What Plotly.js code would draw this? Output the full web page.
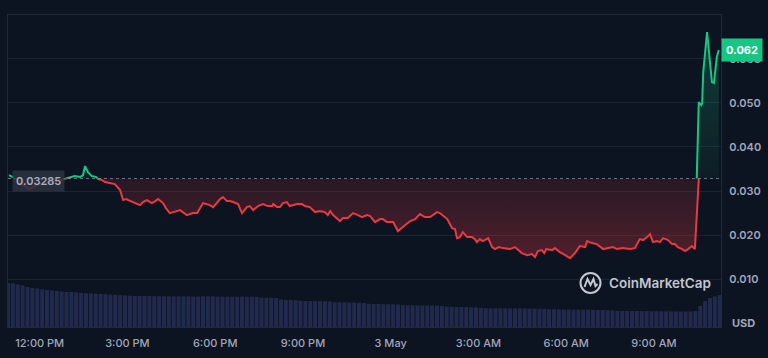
<!DOCTYPE html>
<html>
<head>
<meta charset="utf-8">
<script src="https://cdn.plot.ly/plotly-3.0.1.min.js"></script>
<style>
html,body{margin:0;padding:0;background:#0d1421;}
#chart{width:768px;height:358px;}
</style>
</head>
<body>
<div id="chart"></div>
<script>
// ---------- DATA ----------
const baselinePrice = 0.03285;
const lastPriceLabel = '0.062';

const priceTimesMay2 = ['10:57','11:05','11:20','11:34','11:40','11:54','12:07','12:21','12:35','12:46','12:56','13:02','13:12','13:23','13:29','13:33','13:39','13:47','13:56','14:00','14:08','14:14','14:24','14:34','14:45','14:51','14:57','15:05','15:16','15:26','15:32','15:40','15:50','15:57','16:03','16:13','16:19','16:27','16:38','16:48','17:02','17:14','17:23','17:35','17:49','17:56','18:10','18:16','18:24','18:30','18:37','18:47','18:55','19:05','19:11','19:18','19:28','19:38','19:48','19:57','19:59','20:07','20:13','20:19','20:27','20:33','20:48','20:58','21:04','21:14','21:25','21:35','21:45','21:51','21:56','22:02','22:16','22:22','22:32','22:43','22:53','23:01','23:11','23:18','23:28','23:38','23:44','23:52'];
const priceMay2 = [0.03363,0.03318,0.03181,0.03091,0.03045,0.03136,0.03181,0.03204,0.03227,0.03249,0.03295,0.03318,0.03340,0.03318,0.03363,0.03567,0.03431,0.03340,0.03318,0.03272,0.03249,0.03204,0.03181,0.03159,0.03023,0.02796,0.02819,0.02773,0.02728,0.02682,0.02751,0.02796,0.02728,0.02773,0.02819,0.02728,0.02614,0.02501,0.02546,0.02569,0.02456,0.02501,0.02501,0.02728,0.02682,0.02637,0.02819,0.02864,0.02773,0.02773,0.02751,0.02705,0.02501,0.02637,0.02660,0.02569,0.02660,0.02705,0.02660,0.02660,0.02705,0.02637,0.02637,0.02728,0.02751,0.02660,0.02705,0.02705,0.02660,0.02637,0.02524,0.02546,0.02524,0.02456,0.02546,0.02456,0.02320,0.02388,0.02388,0.02501,0.02456,0.02410,0.02456,0.02433,0.02297,0.02365,0.02365,0.02297];

const priceTimesMay3 = ['00:05','00:15','00:25','00:40','00:50','01:00','01:10','01:21','01:35','01:41','01:56','02:06','02:12','02:16','02:22','02:28','02:37','02:47','02:53','02:57','03:03','03:09','03:20','03:28','03:34','03:42','03:50','04:05','04:15','04:29','04:40','04:50','04:56','05:02','05:10','05:15','05:19','05:31','05:37','05:47','05:58','06:08','06:18','06:28','06:39','06:43','06:53','07:03','07:16','07:26','07:36','07:44','07:56','08:11','08:21','08:31','08:38','08:46','08:52','08:58','09:06','09:12','09:19','09:29','09:37','09:43','09:49','09:58','10:04','10:10','10:18','10:24','10:32','10:37','10:39','10:41','10:49','10:53','10:59','11:03','11:09','11:13'];
const priceMay3 = [0.02297,0.02093,0.02184,0.02320,0.02365,0.02478,0.02410,0.02410,0.02524,0.02501,0.02365,0.02161,0.02138,0.01934,0.01957,0.02070,0.01957,0.01957,0.01911,0.01843,0.01911,0.01866,0.01934,0.01730,0.01685,0.01730,0.01707,0.01685,0.01730,0.01594,0.01548,0.01571,0.01503,0.01639,0.01662,0.01594,0.01685,0.01662,0.01707,0.01616,0.01548,0.01480,0.01594,0.01753,0.01730,0.01866,0.01821,0.01798,0.01685,0.01707,0.01730,0.01685,0.01707,0.01685,0.01707,0.01911,0.01889,0.01957,0.02025,0.01843,0.01866,0.01843,0.01934,0.01889,0.01798,0.01798,0.01730,0.01685,0.01639,0.01685,0.01753,0.01685,0.05018,0.04950,0.04996,0.05676,0.06606,0.06130,0.05472,0.05450,0.06039,0.06200];

const volTimesMay2 = ['10:55','11:05','11:15','11:25','11:35','11:45','11:55','12:05','12:15','12:25','12:35','12:45','12:55','13:05','13:15','13:25','13:35','13:45','13:55','14:05','14:15','14:25','14:35','14:45','14:55','15:05','15:15','15:25','15:35','15:45','15:55','16:05','16:15','16:25','16:35','16:45','16:55','17:05','17:15','17:25','17:35','17:45','17:55','18:05','18:15','18:25','18:35','18:45','18:55','19:05','19:15','19:25','19:35','19:45','19:55','20:05','20:15','20:25','20:35','20:45','20:55','21:05','21:15','21:25','21:35','21:45','21:55','22:05','22:15','22:25','22:35','22:45','22:55','23:05','23:15','23:25','23:35','23:45','23:55'];
const volMay2 = [44,43.5,42.5,41.5,40,39,38.5,37.5,37,36.5,36,35.5,35,35,34.5,34,33.8,33.5,33.2,33,32.8,32.5,32,31.8,31.5,31.3,31,31,31,31,30.8,30.8,30.7,30.7,30.6,30.6,30.5,30.5,30.5,30.4,30.7,30.7,30.5,30.3,30.3,30.3,30.3,30.3,30.3,30.2,30.2,30,29.3,29.3,29.2,29,27.5,27,27,26.8,26.3,26,26,25.8,25.8,25.7,25.5,24.8,24.7,24.7,24.5,24.5,24.3,24,23.2,23,23,22.8,22.7];

const volTimesMay3 = ['00:05','00:15','00:25','00:35','00:45','00:55','01:05','01:15','01:25','01:35','01:45','01:55','02:05','02:15','02:25','02:35','02:45','02:55','03:05','03:15','03:25','03:35','03:45','03:55','04:05','04:15','04:25','04:35','04:45','04:55','05:05','05:15','05:25','05:35','05:45','05:55','06:05','06:15','06:25','06:35','06:45','06:55','07:05','07:15','07:25','07:35','07:45','07:55','08:05','08:15','08:25','08:35','08:45','08:55','09:05','09:15','09:25','09:35','09:45','09:55','10:05','10:15','10:25','10:35','10:45','10:55','11:05','11:15'];
const volMay3 = [22.7,22.5,21.8,21.7,21.7,21.6,21.5,21.5,21.4,21.3,21,20.5,20.2,20,20,20,19.8,19.6,19,18.8,18.7,18.7,18.7,18.6,18.6,18.5,18.5,18.5,18.4,18.3,18.2,18,17.7,17.7,17.6,17.5,17.5,17.4,17.3,17.3,17.2,17.2,17,17,16.8,16.6,16.2,16,16,16,16,15.9,15.9,15.8,15.8,15.7,15.7,15.6,15.6,15.5,15.5,15.5,16,21,26,29,30.5,32];

const xTickVals = ['2024-05-02 12:00','2024-05-02 15:00','2024-05-02 18:00','2024-05-02 21:00','2024-05-03 00:00','2024-05-03 03:00','2024-05-03 06:00','2024-05-03 09:00'];
const xTickText = ['12:00 PM','3:00 PM','6:00 PM','9:00 PM','3 May','3:00 AM','6:00 AM','9:00 AM'];
const yTickVals = [0.01,0.02,0.03,0.04,0.05,0.06];
const yTickText = ['0.010','0.020','0.030','0.040','0.050','0.060'];

// ---------- BUILD ----------
const priceX = priceTimesMay2.map(t => '2024-05-02 ' + t).concat(priceTimesMay3.map(t => '2024-05-03 ' + t));
const priceY = priceMay2.concat(priceMay3);
const volX = volTimesMay2.map(t => '2024-05-02 ' + t).concat(volTimesMay3.map(t => '2024-05-03 ' + t));
const volY = volMay2.concat(volMay3);
const baseY = priceX.map(() => baselinePrice);

const RED = '#ea3943', GREEN = '#16c784', BG = '#0d1421';
const yMin = -0.00082, yMax = 0.06993;
const split = (baselinePrice - yMin) / (yMax - yMin);
const xRange = ['2024-05-02 10:55', '2024-05-03 11:17:36'];

const traces = [
  {type:'bar', x:volX, y:volY, yaxis:'y2', xaxis:'x',
   marker:{color:'#202a4c', line:{width:0}}, hoverinfo:'skip'},
  // red (below baseline) – clipped subplot
  {type:'scatter', mode:'lines', x:priceX, y:baseY, xaxis:'x', yaxis:'y3',
   line:{width:0, color:'rgba(0,0,0,0)'}, hoverinfo:'skip'},
  {type:'scatter', mode:'lines', x:priceX, y:priceY, xaxis:'x', yaxis:'y3',
   fill:'tonexty',
   fillgradient:{type:'vertical', start:0.015, stop:baselinePrice,
     colorscale:[[0,'rgba(234,57,67,0.30)'],[1,'rgba(234,57,67,0.12)']]},
   line:{color:RED, width:2}, hoverinfo:'skip'},
  // green (above baseline) – clipped subplot
  {type:'scatter', mode:'lines', x:priceX, y:baseY, xaxis:'x', yaxis:'y4',
   line:{width:0, color:'rgba(0,0,0,0)'}, hoverinfo:'skip'},
  {type:'scatter', mode:'lines', x:priceX, y:priceY, xaxis:'x', yaxis:'y4',
   fill:'tonexty',
   fillgradient:{type:'vertical', start:baselinePrice, stop:0.066,
     colorscale:[[0,'rgba(22,199,132,0.05)'],[1,'rgba(22,199,132,0.24)']]},
   line:{color:GREEN, width:2}, hoverinfo:'skip'},
  // invisible trace to anchor the main axis
  {type:'scatter', mode:'lines', x:[priceX[0]], y:[baselinePrice], xaxis:'x', yaxis:'y',
   line:{width:0}, hoverinfo:'skip'}
];

const pxX = (px) => (px - 8) / 713;     // paper fraction helpers for decorations
const pxY = (py) => (327 - py) / 312;

const layout = {
  width:768, height:358,
  margin:{l:8, r:47, t:15, b:31},
  paper_bgcolor:BG, plot_bgcolor:'rgba(0,0,0,0)',
  showlegend:false, hovermode:false,
  font:{family:'Inter, "Open Sans", sans-serif', color:'#a1a7bb', size:11},
  bargap:0.18,
  xaxis:{type:'date', range:xRange, tickvals:xTickVals, ticktext:xTickText,
    showgrid:false, zeroline:false, showline:true, mirror:true,
    linecolor:'#232836', linewidth:1,
    ticks:'outside', ticklen:6, tickcolor:'rgba(0,0,0,0)',
    tickfont:{size:11, color:'#a1a7bb', weight:500}, anchor:'y', fixedrange:true},
  yaxis:{range:[yMin, yMax], domain:[0,1], side:'right', tickvals:yTickVals, ticktext:yTickText,
    showgrid:true, gridcolor:'#1e2330', gridwidth:1, zeroline:false,
    showline:true, mirror:true, linecolor:'#232836', linewidth:1,
    ticks:'outside', ticklen:5, tickcolor:'rgba(0,0,0,0)',
    tickfont:{size:11, color:'#a1a7bb', weight:600}, anchor:'x', fixedrange:true},
  yaxis2:{overlaying:'y', range:[0,312], visible:false, fixedrange:true},
  yaxis3:{domain:[0, split], range:[yMin, baselinePrice], visible:false, anchor:'x', fixedrange:true},
  yaxis4:{domain:[split, 1], range:[baselinePrice, yMax], visible:false, anchor:'x', fixedrange:true},
  shapes:[
    {type:'line', xref:'paper', x0:0, x1:1, yref:'y', y0:baselinePrice, y1:baselinePrice,
     line:{color:'rgba(170,176,192,0.6)', width:1, dash:'dot'}, layer:'above'},
    // CoinMarketCap watermark logo
    {type:'circle', xref:'paper', yref:'paper', xsizemode:'pixel', ysizemode:'pixel',
     xanchor:pxX(590.5), yanchor:pxY(283), x0:-10, x1:10, y0:-10, y1:10,
     line:{color:'rgba(215,218,226,0.9)', width:2}, layer:'above'},
    {type:'path', xref:'paper', yref:'paper', xsizemode:'pixel', ysizemode:'pixel',
     xanchor:pxX(590.5), yanchor:pxY(283),
     path:'M -6 -4 L -3 4 L 0 -2 L 3 4 L 5 -3 L 7 -1',
     line:{color:'rgba(215,218,226,0.9)', width:2}, layer:'above'}
  ],
  annotations:[
    {xref:'paper', x:0, xanchor:'left', xshift:4, yref:'y', y:baselinePrice, yanchor:'middle', yshift:-2,
     text:baselinePrice.toFixed(5), showarrow:false, bgcolor:'rgba(44,49,63,0.85)', borderpad:3,
     font:{size:11, color:'#a6adbf', weight:600}},
    {xref:'paper', x:1, xanchor:'left', xshift:0, yref:'y', y:0.062, yanchor:'middle',
     text:lastPriceLabel, showarrow:false, bgcolor:GREEN, borderpad:4,
     font:{size:11, color:'#ffffff', weight:700}},
    {xref:'paper', x:1, xanchor:'center', xshift:22.5, yref:'paper', y:0, yanchor:'middle', yshift:4,
     text:'USD', showarrow:false, font:{size:11, color:'#a1a7bb', weight:700}},
    {xref:'paper', x:pxX(607), xanchor:'left', yref:'paper', y:pxY(283), yanchor:'middle',
     text:'CoinMarketCap', showarrow:false, font:{size:13.5, color:'rgba(220,223,230,0.9)', weight:600}}
  ]
};

Plotly.newPlot('chart', traces, layout, {staticPlot:true, displayModeBar:false});
</script>
</body>
</html>
